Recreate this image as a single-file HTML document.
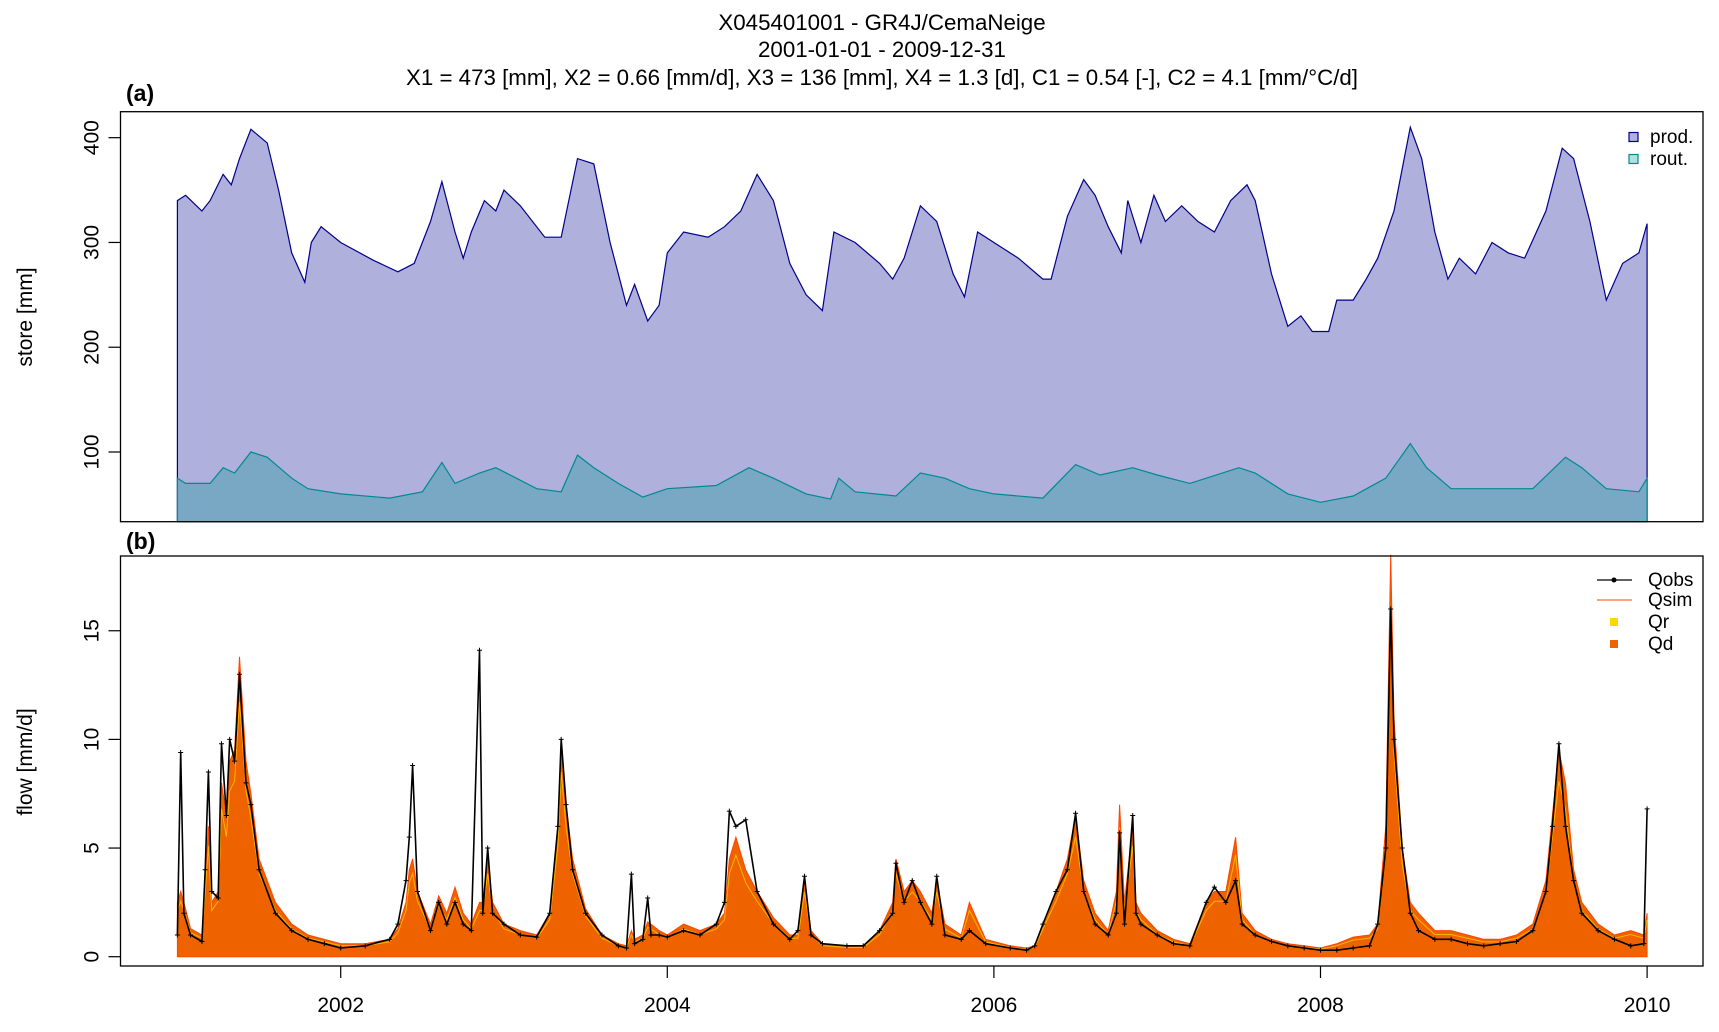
<!DOCTYPE html>
<html><head><meta charset="utf-8"><style>
body{margin:0;background:#fff;}
svg{display:block;font-family:"Liberation Sans",Arial,sans-serif;}
</style></head><body>
<svg id="c" width="1719" height="1032">
<text x="882" y="30" font-size="22.3" text-anchor="middle">X045401001 - GR4J/CemaNeige</text>
<text x="882" y="57" font-size="22.3" text-anchor="middle">2001-01-01 - 2009-12-31</text>
<text x="882" y="85" font-size="22.3" text-anchor="middle">X1 = 473 [mm], X2 = 0.66 [mm/d], X3 = 136 [mm], X4 = 1.3 [d], C1 = 0.54 [-], C2 = 4.1 [mm/°C/d]</text>
<text x="126" y="101" font-size="23" font-weight="bold">(a)</text>
<text x="126" y="549" font-size="23" font-weight="bold">(b)</text>
<g id="ga"></g>
<g id="gb"></g>
</svg>
<script>
const prodT=[2001.0,2001.05,2001.15,2001.2,2001.28,2001.33,2001.38,2001.45,2001.55,2001.62,2001.7,2001.78,2001.82,2001.88,2002.0,2002.2,2002.35,2002.45,2002.55,2002.62,2002.7,2002.75,2002.8,2002.88,2002.95,2003.0,2003.1,2003.25,2003.35,2003.45,2003.55,2003.65,2003.75,2003.8,2003.88,2003.95,2004.0,2004.1,2004.25,2004.35,2004.45,2004.55,2004.65,2004.75,2004.85,2004.95,2005.02,2005.15,2005.3,2005.38,2005.45,2005.55,2005.65,2005.75,2005.82,2005.9,2006.0,2006.15,2006.3,2006.35,2006.45,2006.55,2006.62,2006.7,2006.78,2006.82,2006.9,2006.98,2007.05,2007.15,2007.25,2007.35,2007.45,2007.55,2007.6,2007.7,2007.8,2007.88,2007.95,2008.05,2008.1,2008.2,2008.28,2008.35,2008.45,2008.55,2008.62,2008.7,2008.78,2008.85,2008.95,2009.05,2009.15,2009.25,2009.38,2009.48,2009.55,2009.65,2009.75,2009.85,2009.95,2010.0];
const prodV=[340,345,330,340,365,355,380,408,395,350,290,262,300,315,300,283,272,280,320,358,310,285,310,340,330,350,335,305,305,380,375,300,240,260,225,240,290,310,305,315,330,365,340,280,250,235,310,300,280,265,285,335,320,270,248,310,300,285,265,265,325,360,345,315,290,340,300,345,320,335,320,310,340,355,340,270,220,230,215,215,245,245,265,285,330,410,380,310,265,285,270,300,290,285,330,390,380,320,245,280,290,318];
const routT=[2001.0,2001.05,2001.2,2001.28,2001.35,2001.45,2001.55,2001.7,2001.8,2002.0,2002.3,2002.5,2002.62,2002.7,2002.85,2002.95,2003.2,2003.35,2003.45,2003.55,2003.7,2003.85,2004.0,2004.3,2004.5,2004.65,2004.85,2005.0,2005.05,2005.15,2005.4,2005.55,2005.7,2005.85,2006.0,2006.3,2006.5,2006.65,2006.85,2007.0,2007.2,2007.5,2007.6,2007.8,2008.0,2008.2,2008.4,2008.55,2008.65,2008.8,2009.0,2009.3,2009.5,2009.6,2009.75,2009.95,2010.0];
const routV=[75,70,70,85,80,100,95,75,65,60,56,62,90,70,80,85,65,62,97,85,70,57,65,68,85,75,60,55,75,62,58,80,75,65,60,56,88,78,85,78,70,85,80,60,52,58,75,108,85,65,65,65,95,85,65,62,75];
const storeTicks=[100,200,300,400];
const flowT=[2001.0,2001.02,2001.04,2001.08,2001.15,2001.17,2001.19,2001.21,2001.25,2001.27,2001.3,2001.32,2001.35,2001.38,2001.42,2001.45,2001.5,2001.6,2001.7,2001.8,2001.9,2002.0,2002.15,2002.3,2002.35,2002.4,2002.42,2002.44,2002.47,2002.55,2002.6,2002.65,2002.7,2002.75,2002.8,2002.85,2002.87,2002.9,2002.93,2003.0,2003.1,2003.2,2003.28,2003.33,2003.35,2003.38,2003.42,2003.5,2003.6,2003.7,2003.75,2003.78,2003.8,2003.85,2003.88,2003.9,2003.95,2004.0,2004.1,2004.2,2004.3,2004.35,2004.38,2004.42,2004.48,2004.55,2004.65,2004.75,2004.8,2004.84,2004.88,2004.95,2005.1,2005.2,2005.3,2005.38,2005.4,2005.45,2005.5,2005.55,2005.62,2005.65,2005.7,2005.8,2005.85,2005.95,2006.1,2006.2,2006.25,2006.3,2006.38,2006.45,2006.5,2006.55,2006.62,2006.7,2006.75,2006.77,2006.8,2006.85,2006.87,2006.9,2007.0,2007.1,2007.2,2007.3,2007.35,2007.42,2007.48,2007.52,2007.6,2007.7,2007.8,2007.9,2008.0,2008.1,2008.2,2008.3,2008.35,2008.4,2008.43,2008.45,2008.5,2008.55,2008.6,2008.7,2008.8,2008.9,2009.0,2009.1,2009.2,2009.3,2009.38,2009.42,2009.46,2009.5,2009.55,2009.6,2009.7,2009.8,2009.9,2009.98,2010.0];
const qobs=[1.0,9.4,2.0,1.0,0.7,4,8.5,3,2.7,9.8,6.5,10,9,13,8,7,4,2,1.2,0.8,0.6,0.4,0.5,0.8,1.5,3.5,5.5,8.8,3,1.2,2.5,1.5,2.5,1.5,1.2,14.1,2,5,2,1.5,1.0,0.9,2,6,10,7,4,2,1.0,0.5,0.4,3.8,0.6,0.8,2.7,1.0,1.0,0.9,1.2,1.0,1.5,2.5,6.7,6.0,6.3,3,1.5,0.8,1.2,3.7,1.0,0.6,0.5,0.5,1.2,2,4.3,2.5,3.5,2.5,1.5,3.7,1.0,0.8,1.2,0.6,0.4,0.3,0.5,1.5,3,4,6.6,3,1.5,1.0,2,5.7,1.5,6.5,2,1.5,1.0,0.6,0.5,2.5,3.2,2.5,3.5,1.5,1.0,0.7,0.5,0.4,0.3,0.3,0.4,0.5,1.5,5,16,10,5,2,1.2,0.8,0.8,0.6,0.5,0.6,0.7,1.2,3,6,9.8,6,3.5,2,1.2,0.8,0.5,0.6,6.8];
const qsim=[2.5,3,2.5,1.3,1.0,3.5,6,2.5,3,8,6.5,9,9.5,13.8,9,7.5,4.5,2.5,1.5,1.0,0.8,0.6,0.6,0.8,1.3,2.5,4,4.5,3,1.5,2.8,2,3.2,2,1.5,2.5,2.5,4.5,2.5,1.5,1.2,1.0,2,6,10,7,4.5,2.2,1.0,0.6,0.5,1.2,0.8,1.0,1.6,1.5,1.2,1.0,1.5,1.2,1.5,2,4.5,5.5,4,3,1.8,1.0,1.0,3.5,1.2,0.6,0.5,0.5,1.2,2.5,4.5,3,3.5,3,2,3.5,1.5,1.0,2.5,0.8,0.5,0.4,0.5,1.5,3,4.5,6.5,3.5,2,1.2,3,7,2.5,6,2.5,2,1.2,0.8,0.6,2.5,3,3,5.5,2,1.2,0.8,0.6,0.5,0.4,0.6,0.9,1.0,1.5,6,18.5,11,5,2.5,2,1.2,1.2,1.0,0.8,0.8,1.0,1.5,3.5,6.5,9.5,8,4,2.5,1.5,1.0,1.2,1.0,2.0];
const flowTicks=[0,5,10,15];
const yearTicks=[2002,2004,2006,2008,2010];

const NS="http://www.w3.org/2000/svg";
function mk(parent,tag,attrs){const e=document.createElementNS(NS,tag);for(const k in attrs)e.setAttribute(k,attrs[k]);parent.appendChild(e);return e;}
const L=120.5,R=1703;
const X=t=>177.4+(t-2001)*163.3;
const YA=v=>452-(v-100)*1.0477, AT=111.7, AB=521.7;
const YB=v=>956.7-v*21.73, BT=556, BB=966;
const ga=document.getElementById('ga'), gb=document.getElementById('gb');

function area(g,T,V,Y,base,fill,stroke,name){
  let d='M'+X(T[0])+','+base;
  for(let i=0;i<T.length;i++)d+=' L'+X(T[i]).toFixed(1)+','+Y(V[i]).toFixed(1);
  d+=' L'+X(T[T.length-1])+','+base+' Z';
  const p=mk(g,'path',{d:d,fill:fill,stroke:stroke,'stroke-width':1.2});
  
  
}
area(ga,prodT,prodV,YA,AB,'#b0b0dc','#00008b','prod-store-area');
area(ga,routT,routV,YA,AB,'#78a8c4','#008b8b','rout-store-area');
let box=mk(ga,'rect',{x:L,y:AT,width:R-L,height:AB-AT,fill:'none',stroke:'#000','stroke-width':1.3});


storeTicks.forEach(v=>{
  mk(ga,'line',{x1:L-12,x2:L,y1:YA(v),y2:YA(v),stroke:'#000','stroke-width':1.2});
  const t=mk(ga,'text',{x:0,y:0,'font-size':21,'text-anchor':'middle',transform:`translate(${L-22},${YA(v)}) rotate(-90)`});
  t.textContent=v;
  
  
});
let ya=mk(ga,'text',{x:0,y:0,'font-size':21,'text-anchor':'middle',transform:'translate(32,317) rotate(-90)'});
ya.textContent='store [mm]';


[['prod.','#b0b0dc','#00008b',137],['rout.','#b0e0e0','#008b8b',159]].forEach(l=>{
  const g=mk(ga,'g',{});
  
  
  mk(g,'rect',{x:1629,y:l[3]-4.5,width:9,height:9,fill:l[1],stroke:l[2],'stroke-width':1.2});
  const t=mk(g,'text',{x:1650,y:l[3]+6,'font-size':19});t.textContent=l[0];
});

let d='M'+X(flowT[0])+','+YB(0);
flowT.forEach((t,i)=>d+=' L'+X(t).toFixed(1)+','+YB(qsim[i]).toFixed(1));
d+=' L'+X(flowT[flowT.length-1])+','+YB(0)+' Z';
let qd=mk(gb,'path',{d:d,fill:'#ee6200',stroke:'#ff4500','stroke-width':1});


let pl=flowT.map((t,i)=>X(t).toFixed(1)+','+YB(qsim[i]*0.85).toFixed(1)).join(' ');
let qr=mk(gb,'polyline',{points:pl,fill:'none',stroke:'#ffd700','stroke-width':1,opacity:0.7});


let po=flowT.map((t,i)=>X(t).toFixed(1)+','+YB(qobs[i]).toFixed(1)).join(' ');
let qo=mk(gb,'polyline',{points:po,fill:'none',stroke:'#000','stroke-width':1.6});


flowT.forEach((t,i)=>{
  const m=mk(gb,'path',{d:`M${X(t)-2.5},${YB(qobs[i])} h5 M${X(t)},${YB(qobs[i])-2.5} v5`,stroke:'#000','stroke-width':1});
  
  
});
let bx=mk(gb,'rect',{x:L,y:BT,width:R-L,height:BB-BT,fill:'none',stroke:'#000','stroke-width':1.3});


flowTicks.forEach(v=>{
  mk(gb,'line',{x1:L-12,x2:L,y1:YB(v),y2:YB(v),stroke:'#000','stroke-width':1.2});
  const t=mk(gb,'text',{x:0,y:0,'font-size':21,'text-anchor':'middle',transform:`translate(${L-22},${YB(v)}) rotate(-90)`});
  t.textContent=v;
  
  
});
yearTicks.forEach(y=>{
  mk(gb,'line',{x1:X(y),x2:X(y),y1:BB,y2:BB+12,stroke:'#000','stroke-width':1.2});
  const t=mk(gb,'text',{x:X(y),y:BB+46,'font-size':21,'text-anchor':'middle'});
  t.textContent=y;
  
  
});
let yb=mk(gb,'text',{x:0,y:0,'font-size':21,'text-anchor':'middle',transform:'translate(32,762) rotate(-90)'});
yb.textContent='flow [mm/d]';


const lg=mk(gb,'g',{});


mk(lg,'line',{x1:1597,x2:1632,y1:580,y2:580,stroke:'#000','stroke-width':1.2});
mk(lg,'circle',{cx:1614,cy:580,r:2.5,fill:'#000'});
mk(lg,'line',{x1:1597,x2:1632,y1:600,y2:600,stroke:'#ff4500','stroke-width':1});
mk(lg,'rect',{x:1610,y:618,width:8,height:8,fill:'#ffd700'});
mk(lg,'rect',{x:1610,y:640,width:8,height:8,fill:'#ee6200'});
[['Qobs',580],['Qsim',600],['Qr',622],['Qd',644]].forEach(l=>{
  const t=mk(lg,'text',{x:1648,y:l[1]+6,'font-size':19});t.textContent=l[0];
  
  
});
</script>
</body></html>
